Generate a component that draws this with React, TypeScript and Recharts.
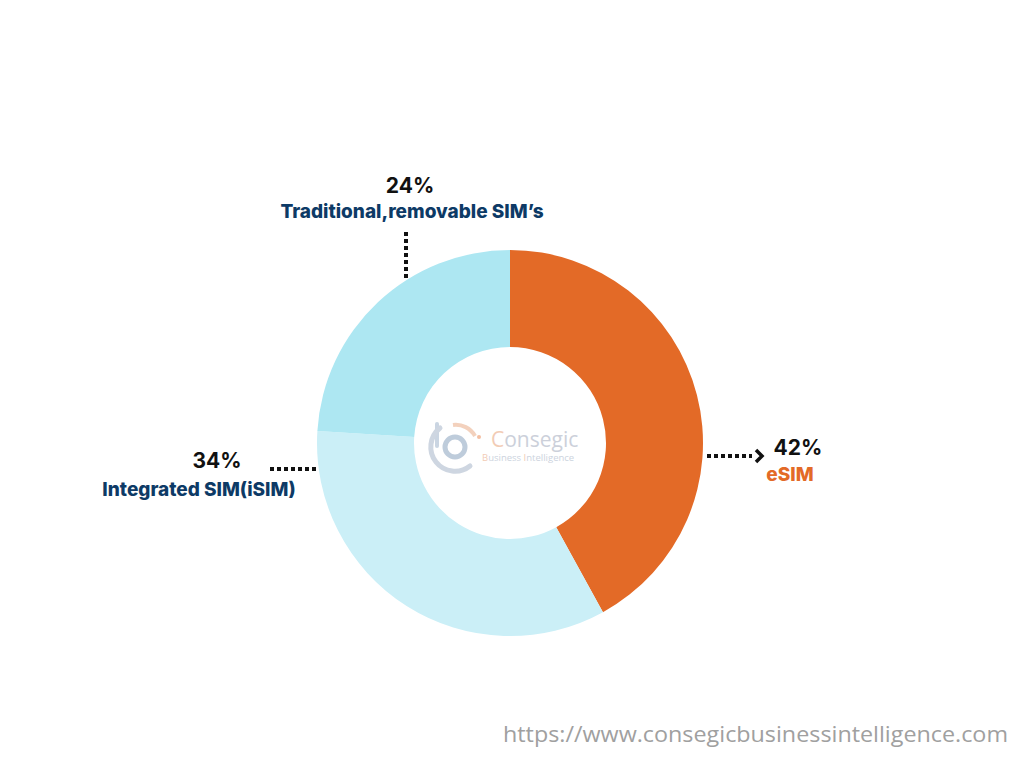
import React from "react";
import { PieChart, Pie, Cell } from "recharts";

const segmentNames = ["eSIM", "Integrated SIM(iSIM)", "Traditional,removable SIM\u2019s"];
const segmentValues = [42, 34, 24];
const segmentColors = ["#E36A27", "#CBEFF7", "#ADE7F2"];
const nameColors = ["#E36A27", "#0D3A66", "#0D3A66"];
const sourceUrl = "https://www.consegicbusinessintelligence.com";

const data = segmentNames.map((name, i) => ({ name, value: segmentValues[i] }));

// annotation placement relative to pie centre (style only)
const layout = [
  { pct: [288, 4], name: [280, 31], line: [[197, 13], [242, 13]], arrow: true },
  { pct: [-293, 17], name: [-311, 46], line: [[-240, 26], [-192, 26]], arrow: false },
  { pct: [-100, -258], name: [-98, -232], line: [[-104, -211], [-104, -165]], arrow: false },
];

const FONT = "Inter, 'Noto Sans', sans-serif";

const renderLabel = (props: any) => {
  const { cx, cy, index } = props;
  const l = layout[index];
  const [p1, p2] = l.line;
  return (
    <g key={`lbl-${index}`}>
      <line
        x1={cx + p1[0]}
        y1={cy + p1[1]}
        x2={cx + p2[0]}
        y2={cy + p2[1]}
        stroke="#111"
        strokeWidth={4}
        strokeDasharray="4 3"
      />
      {l.arrow && (
        <polyline
          points={`${cx + p2[0] + 4},${cy + p2[1] - 6} ${cx + p2[0] + 10},${cy + p2[1]} ${cx + p2[0] + 4},${cy + p2[1] + 6}`}
          fill="none"
          stroke="#111"
          strokeWidth={3.5}
        />
      )}
      <text
        x={cx + l.pct[0]}
        y={cy + l.pct[1]}
        textAnchor="middle"
        dominantBaseline="central"
        fontFamily={FONT}
        fontWeight={700}
        fontSize={21}
        fill="#111"
      >
        {`${segmentValues[index]}%`}
      </text>
      <text
        x={cx + l.name[0]}
        y={cy + l.name[1]}
        textAnchor="middle"
        dominantBaseline="central"
        fontFamily={FONT}
        fontWeight={800}
        fontSize={19}
        fill={nameColors[index]}
      >
        {segmentNames[index]}
      </text>
    </g>
  );
};

export default function App() {
  return (
    <div
      style={{
        position: "absolute",
        left: 0,
        top: 0,
        width: 1024,
        height: 768,
        background: "#fff",
        overflow: "hidden",
      }}
    >
      <PieChart width={1024} height={768} margin={{ top: 0, right: 0, bottom: 0, left: 0 }}>
        <Pie
          data={data}
          dataKey="value"
          nameKey="name"
          cx={510}
          cy={443}
          innerRadius={96}
          outerRadius={193}
          startAngle={90}
          endAngle={-270}
          stroke="none"
          isAnimationActive={false}
          labelLine={false}
          label={renderLabel}
        >
          {data.map((d, i) => (
            <Cell key={d.name} fill={segmentColors[i]} />
          ))}
        </Pie>
      </PieChart>
      <svg
        width={1024}
        height={768}
        style={{ position: "absolute", left: 0, top: 0, pointerEvents: "none" }}
      >
        {/* watermark logo */}
        <g opacity={0.9}>
          <path d="M 437 424 L 437 446" stroke="#C5D1DF" strokeWidth={4} strokeLinecap="round" fill="none" />
          <circle cx={455} cy={447} r={10} stroke="#B8C7D8" strokeWidth={5} fill="none" />
          <path d="M 440 428 A 21 21 0 0 0 470 466" stroke="#C9D2DE" strokeWidth={5} fill="none" strokeLinecap="round" />
          <path d="M 453 425 A 22 22 0 0 1 475 436" stroke="#F2CDB6" strokeWidth={4} fill="none" />
          <circle cx={479} cy={437} r={2} fill="#F2B999" />
          <text x={491} y={447} fontFamily="'Open Sans', sans-serif" fontSize={21} fill="#C7CCD7">
            <tspan fill="#F1C7AE">C</tspan>onsegic
          </text>
          <text x={482} y={461} fontFamily="'Open Sans', sans-serif" fontSize={9.5} fill="#C7CFDB">
            <tspan fill="#F1C7AE">B</tspan>usiness <tspan fill="#F1C7AE">I</tspan>ntelligence
          </text>
        </g>
        <text
          x={1008}
          y={742}
          textAnchor="end"
          fontFamily="'Open Sans', sans-serif"
          fontSize={21}
          fill="#A0A0A0"
          textLength={505}
          lengthAdjust="spacingAndGlyphs"
        >
          {sourceUrl}
        </text>
      </svg>
    </div>
  );
}
